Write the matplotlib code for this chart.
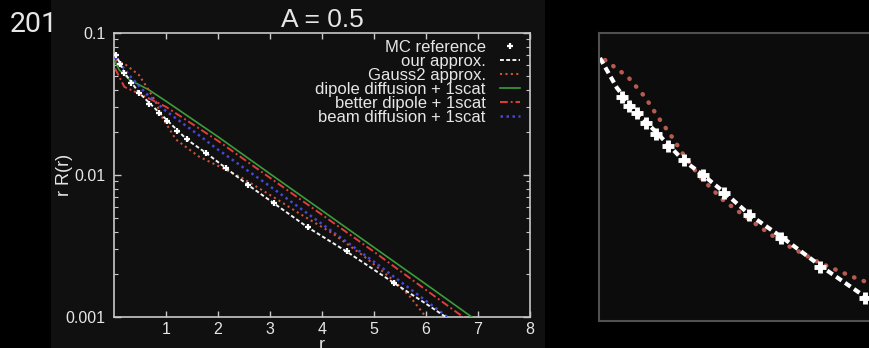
import matplotlib
matplotlib.use("Agg")
import matplotlib.pyplot as plt
from matplotlib.patches import Rectangle

plt.rcParams['font.family'] = ['Liberation Sans', 'DejaVu Sans']

# left plot: r R(r) vs r for A = 0.5
MC_R = [0.04, 0.12, 0.2, 0.33, 0.48, 0.67, 0.87, 1.02, 1.21, 1.4, 1.77, 2.15,
        2.58, 3.08, 3.73, 4.48, 5.38]
MC_VAL = [0.0700, 0.0603, 0.0525, 0.0447, 0.0380, 0.0316, 0.0275, 0.0240, 0.0204,
          0.0178, 0.0143, 0.0112, 0.0085, 0.0063, 0.0043, 0.0029, 0.00174]

OURS_R = [0.02, 0.04, 0.2, 0.48, 0.87, 1.4, 1.77, 2.15, 2.58, 3.08, 3.73, 4.48,
          5.38, 6.0, 6.38, 6.5]
OURS_VAL = [0.0724, 0.0700, 0.0525, 0.0380, 0.0275, 0.0178, 0.0143, 0.0112, 0.0085,
            0.0063, 0.00427, 0.00288, 0.00174, 0.00124, 0.00100, 0.00093]

GAUSS_R = [0.03, 0.23, 0.48, 0.63, 0.81, 0.92, 1.19, 1.63, 2.02, 2.46, 3.0, 3.56,
           4.2, 4.8, 5.4, 5.7, 6.0, 6.1]
GAUSS_VAL = [0.0646, 0.0596, 0.0506, 0.0417, 0.0324, 0.0257, 0.0178, 0.0135, 0.0115,
             0.00955, 0.00724, 0.00537, 0.00389, 0.00269, 0.00178, 0.00138, 0.00100,
             0.00087]

DIPOLE_R = [0.02, 0.1, 0.3, 0.67, 1.0, 2.0, 3.0, 4.0, 5.0, 6.0, 7.0]
DIPOLE_VAL = [0.0631, 0.0550, 0.0468, 0.0398, 0.0331, 0.0186, 0.0102, 0.00562,
              0.00309, 0.00170, 0.00093]

BETTER_R = [0.02, 0.2, 0.5, 1.0, 2.0, 3.0, 4.0, 5.0, 6.0, 7.0]
BETTER_VAL = [0.0562, 0.0417, 0.0372, 0.0302, 0.0174, 0.00955, 0.00525, 0.00288,
              0.00155, 0.00084]

BEAM_R = [0.02, 0.3, 0.6, 1.0, 1.63, 2.0, 3.0, 4.0, 5.0, 6.0, 7.0]
BEAM_VAL = [0.0676, 0.0501, 0.0380, 0.0282, 0.0191, 0.0151, 0.00832, 0.00452,
            0.00245, 0.00130, 0.00069]

X_TICKS = [1, 2, 3, 4, 5, 6, 7, 8]
Y_TICKS = [0.001, 0.01, 0.1]
Y_TICK_LABELS = ['0.001', '0.01', '0.1']

# right panel: zoomed view, arbitrary units (x right, y down)
ZOOM_LINE_X = [1, 18, 38, 58, 84, 104, 126, 151, 184, 223, 268, 290]
ZOOM_LINE_Y = [25, 55, 80, 100, 127, 142, 160, 182, 205, 234, 265, 280]
ZOOM_MC_X = [23, 30, 38, 47, 57, 69, 85, 104, 125, 150, 182, 221, 266]
ZOOM_MC_Y = [64, 73, 80, 90, 101, 113, 127, 142, 160, 182, 205, 234, 265]
ZOOM_GAUSS_X = [6, 29, 46, 59, 73, 84, 101, 124, 151, 184, 221, 254, 270, 290]
ZOOM_GAUSS_Y = [27, 44, 64, 84, 104, 121, 144, 167, 187, 210, 230, 244, 250, 258]

FG = '#e6e6e6'
SPINE = '#c8c8c8'
PANEL = '#101010'

fig = plt.figure(figsize=(8.69, 3.48), dpi=100, facecolor='black')

fig.text(10 / 869, 1 - 32 / 348, '201', family=['Roboto', 'DejaVu Sans'],
         fontsize=20.5, color=FG, va='baseline', ha='left', zorder=3)
fig.patches.append(Rectangle((51 / 869, 0), 494 / 869, 1, transform=fig.transFigure,
                             facecolor=PANEL, edgecolor='none', zorder=1))

ax = fig.add_axes([114 / 869, 1 - 317 / 348, 416 / 869, 284 / 348])
ax.set_facecolor(PANEL)
ax.set_zorder(2)

ax.plot(MC_R, MC_VAL, linestyle='none', marker='+', ms=5, mew=1.6, color='white',
        label='MC reference', zorder=6)
ax.plot(OURS_R, OURS_VAL, linestyle=(0, (2, 1.2)), lw=1.4, color='#f2f2f2',
        label='our approx.', zorder=5)
ax.plot(GAUSS_R, GAUSS_VAL, linestyle=(0, (1, 1.6)), lw=1.5, color='#c8553c',
        label='Gauss2 approx.', zorder=4)
ax.plot(DIPOLE_R, DIPOLE_VAL, linestyle='-', lw=1.2, color='#3c9c3c',
        label='dipole diffusion + 1scat', zorder=3)
ax.plot(BETTER_R, BETTER_VAL, linestyle=(0, (4, 1.5, 1, 1.5)), lw=1.4, color='#e03c3c',
        label='better dipole + 1scat', zorder=3)
ax.plot(BEAM_R, BEAM_VAL, linestyle=(0, (1, 1.4)), lw=1.8, color='#4646d8',
        label='beam diffusion + 1scat', zorder=3)

ax.set_yscale('log')
ax.set_xlim(0, 8)
ax.set_ylim(0.001, 0.1)
ax.set_xticks(X_TICKS)
ax.set_yticks(Y_TICKS)
ax.set_yticklabels(Y_TICK_LABELS)
ax.tick_params(which='both', direction='in', top=True, right=True, colors=SPINE,
               labelcolor=FG, labelsize=11.5)
ax.tick_params(axis='x', which='major', length=4, width=1, pad=3.5)
ax.tick_params(axis='y', which='major', length=5, width=1, pad=6)
ax.tick_params(axis='y', which='minor', length=3, width=0.8)
for s in ax.spines.values():
    s.set_color(SPINE)
    s.set_linewidth(1.2)

ax.set_title('A = 0.5', color=FG, fontsize=19, pad=4)
ax.set_xlabel('r', color=FG, fontsize=13, labelpad=0)
ax.set_ylabel('r R(r)', color=FG, fontsize=13)
ax.yaxis.set_label_coords(-0.098, 0.5)

leg = ax.legend(loc='upper right', bbox_to_anchor=(1.0, 1.011), frameon=False,
                markerfirst=False, fontsize=12, labelspacing=-0.06, handlelength=1.2,
                handletextpad=0.85, borderaxespad=0.55, borderpad=0.05, labelcolor=FG)
for t in leg.get_texts():
    t.set_ha('right')

# right panel (zoomed-in comparison)
ax2 = fig.add_axes([599 / 869, 1 - 321 / 348, 290 / 869, 288 / 348])
ax2.set_facecolor('#0c0c0c')
ax2.set_zorder(2)
ax2.plot(ZOOM_GAUSS_X, ZOOM_GAUSS_Y, linestyle=(0, (0.1, 2.2)), lw=3.2,
         dash_capstyle='round', color='#b85a50')
ax2.plot(ZOOM_LINE_X, ZOOM_LINE_Y, linestyle=(0, (1.6, 1.0)), lw=3, color='white')
ax2.plot(ZOOM_MC_X, ZOOM_MC_Y, linestyle='none', marker='+', ms=9, mew=3.5,
         color='white')
ax2.set_xlim(0, 290)
ax2.set_ylim(288, 0)
ax2.set_xticks([])
ax2.set_yticks([])
for s in ax2.spines.values():
    s.set_color('#505050')
    s.set_linewidth(1.5)

fig.savefig('out.png', dpi=100, facecolor='black')
